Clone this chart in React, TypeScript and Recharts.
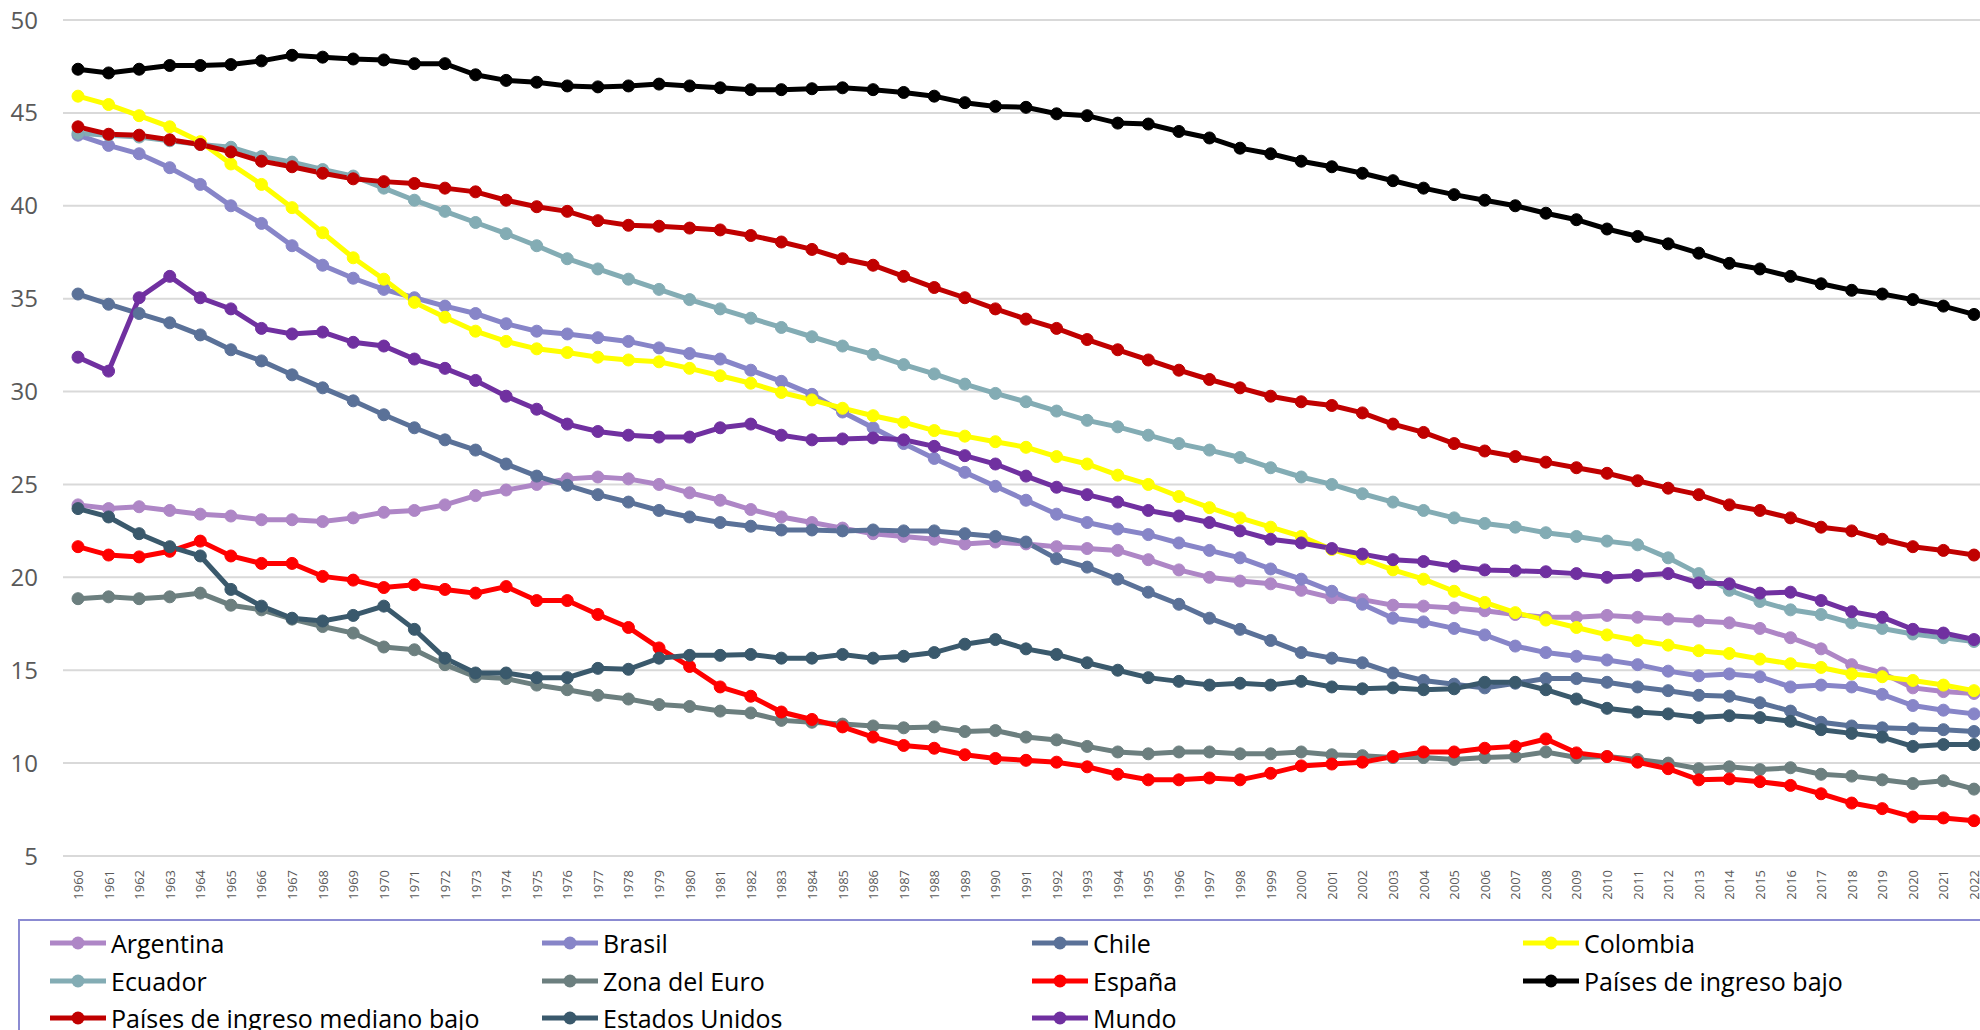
import { LineChart, Line, XAxis, YAxis, CartesianGrid } from "recharts";

const years = [
  "1960", "1961", "1962", "1963", "1964", "1965", "1966", "1967", "1968", "1969",
  "1970", "1971", "1972", "1973", "1974", "1975", "1976", "1977", "1978", "1979",
  "1980", "1981", "1982", "1983", "1984", "1985", "1986", "1987", "1988", "1989",
  "1990", "1991", "1992", "1993", "1994", "1995", "1996", "1997", "1998", "1999",
  "2000", "2001", "2002", "2003", "2004", "2005", "2006", "2007", "2008", "2009",
  "2010", "2011", "2012", "2013", "2014", "2015", "2016", "2017", "2018", "2019",
  "2020", "2021", "2022",
];

const yTicks = [5, 10, 15, 20, 25, 30, 35, 40, 45, 50];

const argentina = [
  23.9, 23.7, 23.8, 23.6, 23.4, 23.3, 23.1, 23.1, 23.0, 23.2,
  23.5, 23.6, 23.9, 24.4, 24.7, 25.0, 25.3, 25.4, 25.3, 25.0,
  24.55, 24.15, 23.65, 23.25, 22.95, 22.65, 22.35, 22.2, 22.05, 21.8,
  21.9, 21.8, 21.65, 21.55, 21.45, 20.95, 20.4, 20.0, 19.8, 19.65,
  19.3, 18.9, 18.8, 18.5, 18.45, 18.35, 18.2, 18.0, 17.85, 17.85,
  17.95, 17.85, 17.75, 17.65, 17.55, 17.25, 16.75, 16.15, 15.3, 14.85,
  14.05, 13.85, 13.75,
];
const brasil = [
  43.8, 43.25, 42.8, 42.05, 41.15, 40.0, 39.05, 37.85, 36.8, 36.1,
  35.5, 35.05, 34.6, 34.2, 33.65, 33.25, 33.1, 32.9, 32.7, 32.35,
  32.05, 31.75, 31.15, 30.55, 29.85, 28.9, 28.05, 27.2, 26.4, 25.65,
  24.9, 24.15, 23.4, 22.95, 22.6, 22.3, 21.85, 21.45, 21.05, 20.45,
  19.9, 19.25, 18.55, 17.8, 17.6, 17.25, 16.9, 16.3, 15.95, 15.75,
  15.55, 15.3, 14.95, 14.7, 14.8, 14.65, 14.1, 14.2, 14.1, 13.7,
  13.1, 12.85, 12.65,
];
const chile = [
  35.25, 34.7, 34.2, 33.7, 33.05, 32.25, 31.65, 30.9, 30.2, 29.5,
  28.75, 28.05, 27.4, 26.85, 26.1, 25.45, 24.95, 24.45, 24.05, 23.6,
  23.25, 22.95, 22.75, 22.55, 22.55, 22.5, 22.55, 22.5, 22.5, 22.35,
  22.2, 21.9, 21.0, 20.55, 19.9, 19.2, 18.55, 17.8, 17.2, 16.6,
  15.95, 15.65, 15.4, 14.85, 14.45, 14.25, 14.05, 14.3, 14.55, 14.55,
  14.35, 14.1, 13.9, 13.65, 13.6, 13.25, 12.8, 12.2, 12.0, 11.9,
  11.85, 11.8, 11.7,
];
const colombia = [
  45.9, 45.45, 44.85, 44.25, 43.45, 42.25, 41.15, 39.9, 38.55, 37.2,
  36.05, 34.8, 34.0, 33.25, 32.7, 32.3, 32.1, 31.85, 31.7, 31.6,
  31.25, 30.85, 30.45, 29.95, 29.55, 29.1, 28.7, 28.35, 27.9, 27.6,
  27.3, 27.0, 26.5, 26.1, 25.5, 25.0, 24.35, 23.75, 23.2, 22.7,
  22.2, 21.5, 21.0, 20.4, 19.9, 19.25, 18.65, 18.1, 17.7, 17.3,
  16.9, 16.6, 16.35, 16.05, 15.9, 15.6, 15.35, 15.15, 14.8, 14.65,
  14.45, 14.2, 13.9,
];
const ecuador = [
  43.9, 43.8, 43.7, 43.5, 43.3, 43.15, 42.65, 42.35, 41.95, 41.6,
  40.95, 40.3, 39.7, 39.1, 38.5, 37.85, 37.15, 36.6, 36.05, 35.5,
  34.95, 34.45, 33.95, 33.45, 32.95, 32.45, 32.0, 31.45, 30.95, 30.4,
  29.9, 29.45, 28.95, 28.45, 28.1, 27.65, 27.2, 26.85, 26.45, 25.9,
  25.4, 25.0, 24.5, 24.05, 23.6, 23.2, 22.9, 22.7, 22.4, 22.2,
  21.95, 21.75, 21.05, 20.2, 19.3, 18.7, 18.25, 18.0, 17.55, 17.25,
  16.95, 16.75, 16.55,
];
const zonaEuro = [
  18.85, 18.95, 18.85, 18.95, 19.15, 18.5, 18.25, 17.75, 17.35, 17.0,
  16.25, 16.1, 15.3, 14.65, 14.55, 14.2, 13.95, 13.65, 13.45, 13.15,
  13.05, 12.8, 12.7, 12.3, 12.2, 12.1, 12.0, 11.9, 11.95, 11.7,
  11.75, 11.4, 11.25, 10.9, 10.6, 10.5, 10.6, 10.6, 10.5, 10.5,
  10.6, 10.45, 10.4, 10.3, 10.3, 10.2, 10.3, 10.35, 10.6, 10.3,
  10.35, 10.2, 10.0, 9.7, 9.8, 9.65, 9.75, 9.4, 9.3, 9.1,
  8.9, 9.05, 8.6,
];
const espana = [
  21.65, 21.2, 21.1, 21.4, 21.95, 21.15, 20.75, 20.75, 20.05, 19.85,
  19.45, 19.6, 19.35, 19.15, 19.5, 18.75, 18.75, 18.0, 17.3, 16.2,
  15.2, 14.1, 13.6, 12.75, 12.35, 11.95, 11.4, 10.95, 10.8, 10.45,
  10.25, 10.15, 10.05, 9.8, 9.4, 9.1, 9.1, 9.2, 9.1, 9.45,
  9.85, 9.95, 10.05, 10.35, 10.6, 10.6, 10.8, 10.9, 11.3, 10.55,
  10.35, 10.05, 9.7, 9.1, 9.15, 9.0, 8.8, 8.35, 7.85, 7.55,
  7.1, 7.05, 6.9,
];
const ingresoBajo = [
  47.35, 47.15, 47.35, 47.55, 47.55, 47.6, 47.8, 48.1, 48.0, 47.9,
  47.85, 47.65, 47.65, 47.05, 46.75, 46.65, 46.45, 46.4, 46.45, 46.55,
  46.45, 46.35, 46.25, 46.25, 46.3, 46.35, 46.25, 46.1, 45.9, 45.55,
  45.35, 45.3, 44.95, 44.85, 44.45, 44.4, 44.0, 43.65, 43.1, 42.8,
  42.4, 42.1, 41.75, 41.35, 40.95, 40.6, 40.3, 40.0, 39.6, 39.25,
  38.75, 38.35, 37.95, 37.45, 36.9, 36.6, 36.2, 35.8, 35.45, 35.25,
  34.95, 34.6, 34.15,
];
const ingresoMedianoBajo = [
  44.25, 43.85, 43.8, 43.55, 43.3, 42.9, 42.4, 42.1, 41.75, 41.45,
  41.3, 41.2, 40.95, 40.75, 40.3, 39.95, 39.7, 39.2, 38.95, 38.9,
  38.8, 38.7, 38.4, 38.05, 37.65, 37.15, 36.8, 36.2, 35.6, 35.05,
  34.45, 33.9, 33.4, 32.8, 32.25, 31.7, 31.15, 30.65, 30.2, 29.75,
  29.45, 29.25, 28.85, 28.25, 27.8, 27.2, 26.8, 26.5, 26.2, 25.9,
  25.6, 25.2, 24.8, 24.45, 23.9, 23.6, 23.2, 22.7, 22.5, 22.05,
  21.65, 21.45, 21.2,
];
const estadosUnidos = [
  23.7, 23.25, 22.35, 21.65, 21.15, 19.35, 18.45, 17.8, 17.65, 17.95,
  18.45, 17.2, 15.65, 14.85, 14.85, 14.6, 14.6, 15.1, 15.05, 15.65,
  15.8, 15.8, 15.85, 15.65, 15.65, 15.85, 15.65, 15.75, 15.95, 16.4,
  16.65, 16.15, 15.85, 15.4, 15.0, 14.6, 14.4, 14.2, 14.3, 14.2,
  14.4, 14.1, 14.0, 14.05, 13.95, 14.0, 14.35, 14.35, 13.95, 13.45,
  12.95, 12.75, 12.65, 12.45, 12.55, 12.45, 12.25, 11.8, 11.6, 11.4,
  10.9, 11.0, 11.0,
];
const mundo = [
  31.85, 31.1, 35.05, 36.2, 35.05, 34.45, 33.4, 33.1, 33.2, 32.65,
  32.45, 31.75, 31.25, 30.6, 29.75, 29.05, 28.25, 27.85, 27.65, 27.55,
  27.55, 28.05, 28.25, 27.65, 27.4, 27.45, 27.5, 27.4, 27.05, 26.55,
  26.1, 25.45, 24.85, 24.45, 24.05, 23.6, 23.3, 22.95, 22.5, 22.05,
  21.85, 21.55, 21.25, 20.95, 20.85, 20.6, 20.4, 20.35, 20.3, 20.2,
  20.0, 20.1, 20.2, 19.7, 19.65, 19.15, 19.2, 18.75, 18.15, 17.85,
  17.2, 17.0, 16.65,
];

const series = [
  { key: "argentina", name: "Argentina", color: "#AE86C6", values: argentina },
  { key: "brasil", name: "Brasil", color: "#8785C8", values: brasil },
  { key: "chile", name: "Chile", color: "#5A7198", values: chile },
  { key: "colombia", name: "Colombia", color: "#FFFF00", values: colombia },
  { key: "ecuador", name: "Ecuador", color: "#83ACB4", values: ecuador },
  { key: "zonaEuro", name: "Zona del Euro", color: "#6C7F7F", values: zonaEuro },
  { key: "espana", name: "España", color: "#FF0000", values: espana },
  { key: "ingresoBajo", name: "Países de ingreso bajo", color: "#000000", values: ingresoBajo },
  { key: "ingresoMedianoBajo", name: "Países de ingreso mediano bajo", color: "#C00000", values: ingresoMedianoBajo },
  { key: "estadosUnidos", name: "Estados Unidos", color: "#3A596C", values: estadosUnidos },
  { key: "mundo", name: "Mundo", color: "#7030A0", values: mundo },
];

const data = years.map((year, i) => {
  const row: Record<string, string | number> = { year };
  series.forEach((s) => {
    row[s.key] = s.values[i];
  });
  return row;
});

const FONT = "'Open Sans', 'Noto Sans', sans-serif";

function YearTick(props: any) {
  const { x, y, payload } = props;
  return (
    <text
      transform={`translate(${x},${y + 6}) rotate(-90)`}
      textAnchor="end"
      dominantBaseline="central"
      fontSize={13}
      fontFamily={FONT}
      fill="#595959"
    >
      {payload.value}
    </text>
  );
}

function LegendBox() {
  const colX = [30, 522, 1012, 1503];
  const rowY = [22, 60, 97];
  return (
    <div
      style={{
        position: "absolute",
        left: 18,
        top: 919,
        width: 2000,
        height: 200,
        border: "2px solid #8B8BD2",
        boxSizing: "border-box",
        background: "#fff",
      }}
    >
      {series.map((s, i) => (
        <div
          key={s.key}
          style={{
            position: "absolute",
            left: colX[i % 4],
            top: rowY[Math.floor(i / 4)] - 16,
            height: 32,
            display: "flex",
            alignItems: "center",
            fontFamily: FONT,
            fontSize: 25,
            color: "#000",
            whiteSpace: "nowrap",
          }}
        >
          <svg width={58} height={20} style={{ marginRight: 3 }}>
            <line x1={0} y1={10} x2={56} y2={10} stroke={s.color} strokeWidth={5} />
            <circle cx={28} cy={10} r={6.5} fill={s.color} />
          </svg>
          <span>{s.name}</span>
        </div>
      ))}
    </div>
  );
}

export default function App() {
  return (
    <div
      style={{
        position: "absolute",
        left: 0,
        top: 0,
        width: 1980,
        height: 1030,
        overflow: "hidden",
        background: "#fff",
      }}
    >
      <LineChart
        width={1980}
        height={1030}
        data={data}
        margin={{ top: 20, right: 0, left: 0, bottom: 0 }}
      >
        <CartesianGrid vertical={false} stroke="#D9D9D9" strokeWidth={2} />
        <XAxis
          dataKey="year"
          interval={0}
          axisLine={false}
          tickLine={false}
          height={174}
          padding={{ left: 15, right: 6 }}
          tick={<YearTick />}
        />
        <YAxis
          domain={[5, 50]}
          ticks={yTicks}
          width={63}
          axisLine={false}
          tickLine={false}
          tickSize={0}
          tickMargin={25}
          tick={{ fontSize: 24, fill: "#595959", fontFamily: FONT }}
        />
        {series.map((s) => (
          <Line
            key={s.key}
            type="linear"
            dataKey={s.key}
            name={s.name}
            stroke={s.color}
            strokeWidth={5}
            dot={{ r: 6, fill: s.color, stroke: s.color, strokeWidth: 1 }}
            activeDot={false}
            isAnimationActive={false}
          />
        ))}
      </LineChart>
      <LegendBox />
    </div>
  );
}
